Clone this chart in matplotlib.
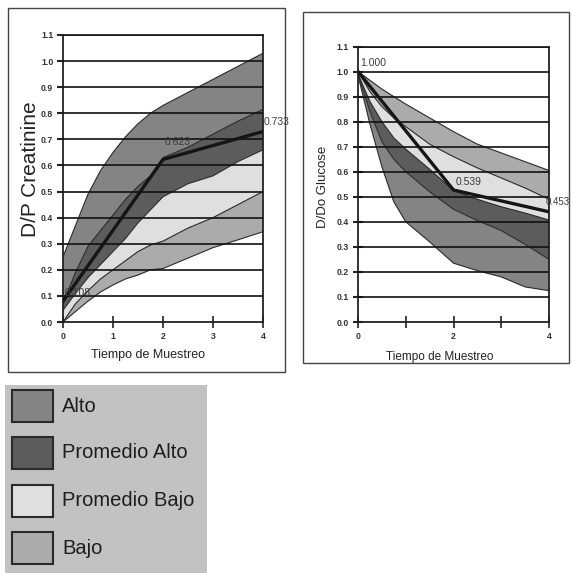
import matplotlib
matplotlib.use("Agg")
import matplotlib.pyplot as plt
from matplotlib import font_manager
from matplotlib.patches import Rectangle

# ---------------- data ----------------
# Left chart: D/P Creatinine
t_cr = [0, 0.25, 0.5, 0.75, 1, 1.25, 1.5, 1.75, 2, 2.5, 3, 3.5, 4]
cr_alto_top = [0.25, 0.37, 0.49, 0.58, 0.65, 0.71, 0.76, 0.80, 0.83, 0.88, 0.93, 0.98, 1.03]
cr_alto_pa = [0.07, 0.19, 0.29, 0.35, 0.41, 0.47, 0.52, 0.56, 0.63, 0.67, 0.72, 0.77, 0.815]
cr_pa_pb = [0.045, 0.11, 0.17, 0.22, 0.27, 0.32, 0.38, 0.43, 0.48, 0.53, 0.56, 0.615, 0.66]
cr_pb_bajo = [0.0, 0.07, 0.12, 0.165, 0.2, 0.235, 0.27, 0.295, 0.31, 0.36, 0.40, 0.45, 0.50]
cr_bajo_bottom = [0.0, 0.04, 0.08, 0.115, 0.142, 0.165, 0.18, 0.2, 0.205, 0.245, 0.285, 0.315, 0.346]
cr_mean_t = [0, 2, 4]
cr_mean = [0.08, 0.623, 0.73]
cr_labels = ["0.108", "0.623", "0.733"]

# Right chart: D/Do Glucose
t_gl = [0, 0.25, 0.5, 0.75, 1, 1.5, 2, 2.5, 3, 3.5, 4]
gl_bajo_top = [1.0, 0.965, 0.93, 0.90, 0.87, 0.815, 0.76, 0.71, 0.675, 0.64, 0.605]
gl_bajo_pb = [1.0, 0.92, 0.86, 0.815, 0.78, 0.71, 0.66, 0.615, 0.575, 0.535, 0.49]
gl_pb_pa = [0.99, 0.88, 0.80, 0.735, 0.69, 0.61, 0.525, 0.49, 0.46, 0.435, 0.407]
gl_pa_alto = [0.99, 0.84, 0.72, 0.65, 0.60, 0.52, 0.45, 0.405, 0.365, 0.31, 0.25]
gl_alto_bottom = [0.985, 0.79, 0.62, 0.48, 0.40, 0.32, 0.235, 0.205, 0.18, 0.14, 0.125]
gl_mean_t = [0, 2, 4]
gl_mean = [1.0, 0.527, 0.44]
gl_labels = ["1.000", "0.539", "0.453"]

y_ticks = [0.0, 0.1, 0.2, 0.3, 0.4, 0.5, 0.6, 0.7, 0.8, 0.9, 1.0, 1.1]
legend_names = ["Alto", "Promedio Alto", "Promedio Bajo", "Bajo"]

# ---------------- style ----------------
C_ALTO = "#848484"
C_PA = "#5c5c5c"
C_PB = "#dfdfdf"
C_BAJO = "#ababab"
LEG_BG = "#c2c2c2"

names = {f.name for f in font_manager.fontManager.ttflist}
SANS = "Liberation Sans" if "Liberation Sans" in names else "DejaVu Sans"
NARROW = "Liberation Sans Narrow" if "Liberation Sans Narrow" in names else SANS
leg_size = 16 if NARROW == "Liberation Sans Narrow" else 14.5

W = H = 573
fig = plt.figure(figsize=(W / 100, H / 100), dpi=100)
fig.patch.set_facecolor("white")


def fx(px):
    return px / W


def fy(py):
    return 1 - py / H


def box(x0, y0, x1, y1, **kw):
    fig.patches.append(Rectangle((fx(x0), fy(y1)), fx(x1 - x0), (y1 - y0) / H,
                                 transform=fig.transFigure, **kw))


# outer frames
box(8, 8, 285, 372, fill=False, edgecolor="#444444", linewidth=1.0)
box(303, 12, 569, 363, fill=False, edgecolor="#444444", linewidth=1.0)


def style_axes(ax, xlabels, tick_dir):
    ax.set_xlim(0, 4)
    ax.set_ylim(0, 1.1)
    ax.set_facecolor("white")
    for s in ax.spines.values():
        s.set_color("#222222")
        s.set_linewidth(1.3)
    for yv in y_ticks[1:]:
        ax.axhline(yv, color="#111111", linewidth=1.2, zorder=3)
    ax.set_yticks(y_ticks)
    ax.set_yticklabels([f"{v:.1f}" for v in y_ticks], fontsize=6.3,
                       fontweight="bold", color="#333333", family=SANS)
    ax.set_xticks([0, 1, 2, 3, 4])
    ax.set_xticklabels(xlabels, fontsize=6.3, fontweight="bold",
                       color="#333333", family=SANS)
    ax.tick_params(axis="y", direction=tick_dir, length=7 if tick_dir == "inout" else 4,
                   width=1.5, color="#222222", pad=3)
    ax.tick_params(axis="x", direction="inout", length=8, width=1.2,
                   color="#222222", pad=3)


def band(ax, t, lo, hi, color):
    ax.fill_between(t, lo, hi, facecolor=color, edgecolor="none", zorder=1)


def edge(ax, t, y):
    ax.plot(t, y, color="#2a2a2a", linewidth=0.8, zorder=2)


# ---------- left chart ----------
axL = fig.add_axes([fx(63), fy(322), fx(200), 287 / H])
band(axL, t_cr, cr_alto_pa, cr_alto_top, C_ALTO)
band(axL, t_cr, cr_pa_pb, cr_alto_pa, C_PA)
band(axL, t_cr, cr_pb_bajo, cr_pa_pb, C_PB)
band(axL, t_cr, cr_bajo_bottom, cr_pb_bajo, C_BAJO)
for b in (cr_alto_top, cr_alto_pa, cr_pa_pb, cr_pb_bajo, cr_bajo_bottom):
    edge(axL, t_cr, b)
axL.plot(cr_mean_t, cr_mean, color="#151515", linewidth=2.4, zorder=4)
style_axes(axL, ["0", "1", "2", "3", "4"], "out")
offsL = [(2, 8), (2, 17), (1, 10)]
for tx, vy, lab, off in zip(cr_mean_t, cr_mean, cr_labels, offsL):
    axL.annotate(lab, (tx, vy), xytext=off, textcoords="offset pixels",
                 fontsize=7.5, color="#3a3a3a", family=SANS, va="center",
                 ha="left", zorder=5, annotation_clip=False)

# ---------- right chart ----------
axR = fig.add_axes([fx(358), fy(322), fx(191), 275.5 / H])
band(axR, t_gl, gl_bajo_pb, gl_bajo_top, C_BAJO)
band(axR, t_gl, gl_pb_pa, gl_bajo_pb, C_PB)
band(axR, t_gl, gl_pa_alto, gl_pb_pa, C_PA)
band(axR, t_gl, gl_alto_bottom, gl_pa_alto, C_ALTO)
for b in (gl_bajo_top, gl_bajo_pb, gl_pb_pa, gl_pa_alto, gl_alto_bottom):
    edge(axR, t_gl, b)
axR.plot(gl_mean_t, gl_mean, color="#151515", linewidth=2.4, zorder=4)
style_axes(axR, ["0", "", "2", "", "4"], "inout")
offsR = [(2, 9), (2, 8), (-3, 10)]
sizesR = [7.5, 7.5, 7.0]
for tx, vy, lab, off, fs in zip(gl_mean_t, gl_mean, gl_labels, offsR, sizesR):
    axR.annotate(lab, (tx, vy), xytext=off, textcoords="offset pixels",
                 fontsize=fs, color="#3a3a3a", family=SANS, va="center",
                 ha="left", zorder=5, annotation_clip=False)

# axis titles
fig.text(fx(148), fy(355), "Tiempo de Muestreo", fontsize=9, family=SANS,
         color="#222222", ha="center", va="center")
fig.text(fx(31), fy(169), "D/P Creatinine", fontsize=15, family=SANS,
         color="#222222", ha="center", va="center", rotation=90)
fig.text(fx(440), fy(357), "Tiempo de Muestreo", fontsize=8.5, family=SANS,
         color="#222222", ha="center", va="center")
fig.text(fx(323), fy(187), "D/Do Glucose", fontsize=9.5, family=SANS,
         color="#222222", ha="center", va="center", rotation=90)

# ---------- legend ----------
box(5, 385, 207, 573, facecolor=LEG_BG, edgecolor="none")
sw_colors = [C_ALTO, C_PA, C_PB, C_BAJO]
sw_tops = [390, 437, 485, 532]
for name, col, top in zip(legend_names, sw_colors, sw_tops):
    box(12, top, 53, top + 32, facecolor=col, edgecolor="#2a2a2a", linewidth=1.5)
    fig.text(fx(62), fy(top + 16), name, fontsize=leg_size, family=NARROW,
             color="#1e1e1e", ha="left", va="center")

fig.savefig("out.png", dpi=100, facecolor="white")
